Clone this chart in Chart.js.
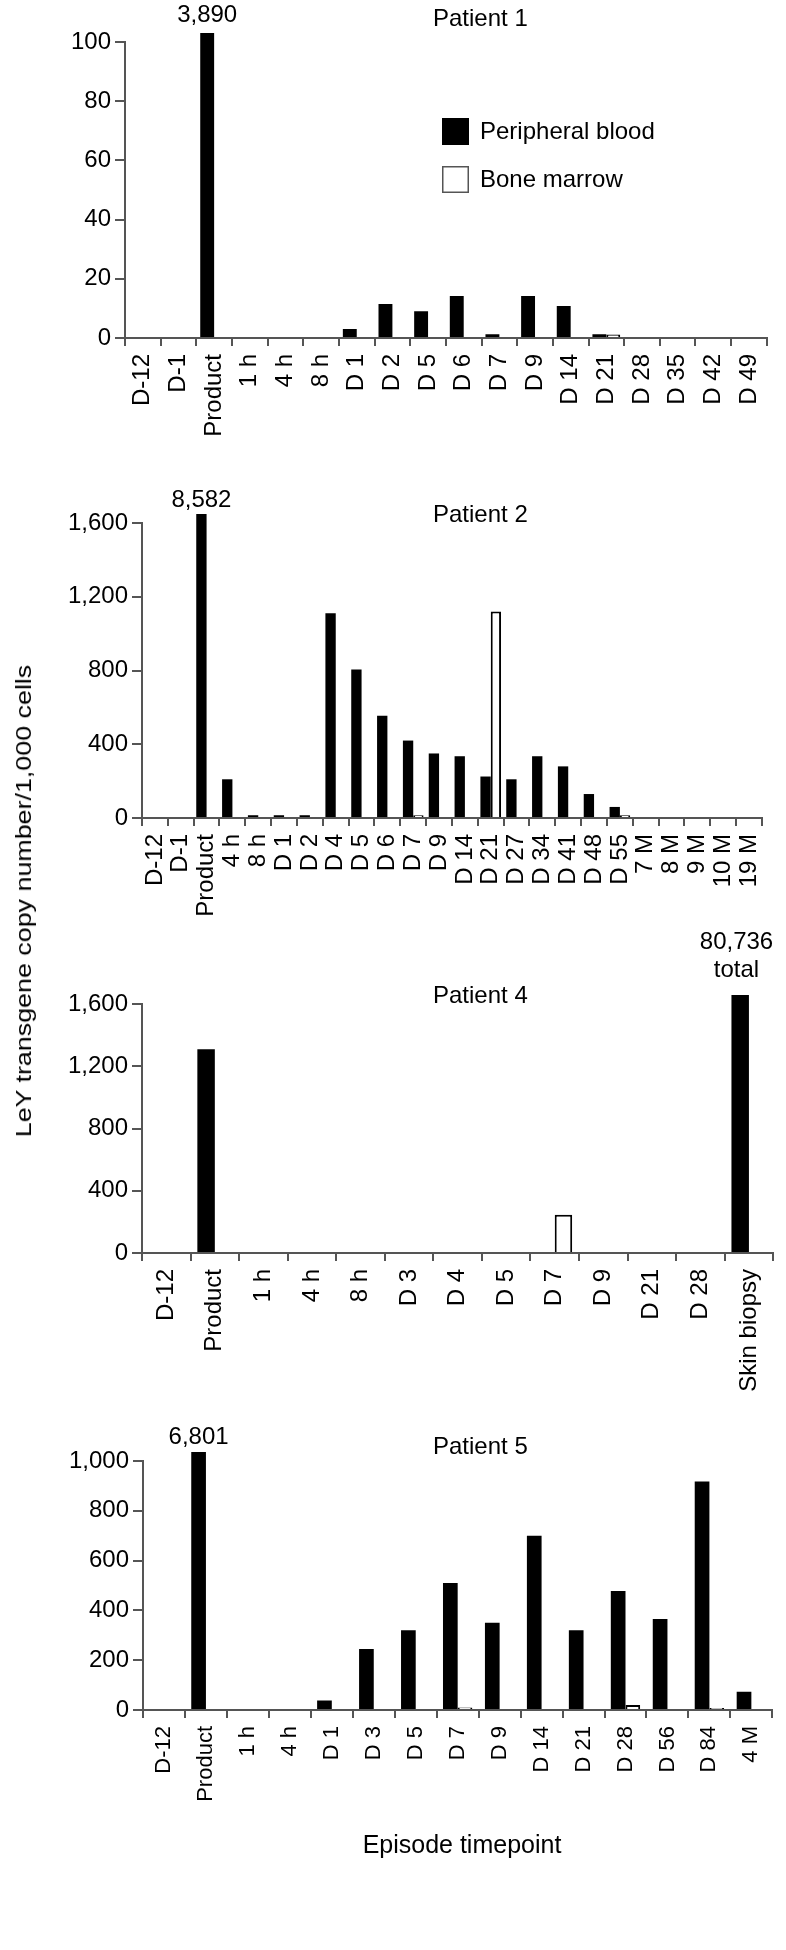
<!DOCTYPE html>
<html>
<head>
<meta charset="utf-8">
<script src="https://cdn.jsdelivr.net/npm/chart.js@4.4.1/dist/chart.umd.min.js"></script>
<style>
  body { margin: 0; background: #fff; }
  #page { position: relative; width: 786px; height: 1950px; overflow: hidden; font-family: "Liberation Sans", Arial, Helvetica, sans-serif; color: #000; }
  canvas { position: absolute; left: 0; }
  .axis-title { position: absolute; white-space: nowrap; transform: translate(-50%, -50%); }
</style>
</head>
<body>
<div id="page">
  <canvas id="p1" width="786" height="500" style="top:0px"></canvas>
  <canvas id="p2" width="786" height="500" style="top:440px"></canvas>
  <canvas id="p4" width="786" height="520" style="top:920px"></canvas>
  <canvas id="p5" width="786" height="470" style="top:1360px"></canvas>
  <div class="axis-title" style="left:24px; top:901px; font-size:22px; transform: translate(-50%, -50%) rotate(-90deg) scaleX(1.22);">LeY transgene copy number/1,000 cells</div>
  <div class="axis-title" style="left:462px; top:1844px; font-size:25px;">Episode timepoint</div>
</div>
<script>
const fontFamily = '"Liberation Sans", Arial, Helvetica, sans-serif';

// Patient 1
const p1Labels = ['D-12', 'D-1', 'Product', '1 h', '4 h', '8 h', 'D 1', 'D 2', 'D 5', 'D 6', 'D 7', 'D 9', 'D 14', 'D 21', 'D 28', 'D 35', 'D 42', 'D 49'];
const p1Blood = [0, 0, 3890, 0, 0, 0, 3, 11.5, 9, 14.2, 1.3, 14.2, 10.8, 1.3, 0, 0, 0, 0];
const p1Marrow = [null, null, null, null, null, null, null, null, null, null, null, null, null, 1.2, null, null, null, null];
const p1YTicks = [0, 20, 40, 60, 80, 100];

// Patient 2
const p2Labels = ['D-12', 'D-1', 'Product', '4 h', '8 h', 'D 1', 'D 2', 'D 4', 'D 5', 'D 6', 'D 7', 'D 9', 'D 14', 'D 21', 'D 27', 'D 34', 'D 41', 'D 48', 'D 55', '7 M', '8 M', '9 M', '10 M', '19 M'];
const p2Blood = [0, 0, 8582, 210, 15, 15, 15, 1110, 805, 555, 420, 350, 335, 225, 210, 335, 280, 130, 60, 0, 0, 0, 0, 0];
const p2Marrow = [null, null, null, null, null, null, null, null, null, null, 15, null, null, 1120, null, null, null, null, 15, null, null, null, null, null];
const p2YTicks = [0, 400, 800, 1200, 1600];

// Patient 4
const p4Labels = ['D-12', 'Product', '1 h', '4 h', '8 h', 'D 3', 'D 4', 'D 5', 'D 7', 'D 9', 'D 21', 'D 28', 'Skin biopsy'];
const p4Blood = [0, 1310, 0, 0, 0, 0, 0, 0, 0, 0, 0, 0, 80736];
const p4Marrow = [null, null, null, null, null, null, null, null, 245, null, null, null, null];
const p4YTicks = [0, 400, 800, 1200, 1600];

// Patient 5
const p5Labels = ['D-12', 'Product', '1 h', '4 h', 'D 1', 'D 3', 'D 5', 'D 7', 'D 9', 'D 14', 'D 21', 'D 28', 'D 56', 'D 84', '4 M'];
const p5Blood = [0, 6801, 0, 0, 38, 245, 320, 510, 350, 700, 320, 478, 365, 918, 73];
const p5Marrow = [null, null, null, null, null, null, null, 10, null, null, null, 20, null, 8, null];
const p5YTicks = [0, 200, 400, 600, 800, 1000];

const seriesNames = ['Peripheral blood', 'Bone marrow'];

Chart.defaults.font.family = fontFamily;
Chart.defaults.color = '#000';

// titles, values of bars running off the top, legend
const panelDecor = {
  id: 'panelDecor',
  afterDatasetsDraw(chart, args, opts) {
    const ctx = chart.ctx;
    const area = chart.chartArea;
    ctx.save();
    ctx.fillStyle = '#000';
    ctx.font = '24px ' + fontFamily;
    ctx.textBaseline = 'middle';
    ctx.textAlign = 'left';
    ctx.fillText(opts.title, opts.titleX, opts.titleY);

    const yMax = chart.scales.y.max;
    const meta = chart.getDatasetMeta(0);
    chart.data.datasets[0].data.forEach((v, i) => {
      if (v > yMax) {
        const bar = meta.data[i];
        const lines = [v.toLocaleString('en-US')];
        if (opts.note) lines.push(opts.note);
        const w = Math.max(...lines.map(t => ctx.measureText(t).width));
        const x = Math.min(bar.x, area.right - w / 2);
        ctx.textAlign = 'center';
        lines.forEach((t, k) => {
          ctx.fillText(t, x, area.top - opts.labelGap - (lines.length - 1 - k) * 28);
        });
      }
    });

    if (opts.legend) {
      const lg = opts.legend;
      chart.data.datasets.forEach((ds, i) => {
        const y = lg.y + i * lg.step;
        ctx.fillStyle = ds.backgroundColor;
        ctx.fillRect(lg.x, y, lg.size, lg.size);
        if (ds.backgroundColor === '#fff') {
          ctx.strokeStyle = '#555';
          ctx.lineWidth = 1.5;
          ctx.strokeRect(lg.x + 0.75, y + 0.75, lg.size - 1.5, lg.size - 1.5);
        }
        ctx.fillStyle = '#000';
        ctx.textAlign = 'left';
        ctx.fillText(ds.label, lg.x + lg.size + 11, y + lg.size / 2 + 1);
      });
    }
    ctx.restore();
  }
};

function makePanel(id, labels, blood, marrow, yTicks, p) {
  const canvas = document.getElementById(id);
  const clip = { left: 0, top: 9, right: 0, bottom: 0 };
  return new Chart(canvas.getContext('2d'), {
    type: 'bar',
    data: {
      labels: labels,
      datasets: [{
        label: seriesNames[0],
        data: blood,
        backgroundColor: '#000',
        borderWidth: 0,
        clip: clip
      }, {
        label: seriesNames[1],
        data: marrow,
        backgroundColor: '#fff',
        borderColor: '#000',
        borderWidth: 2,
        clip: clip
      }]
    },
    options: {
      responsive: false,
      animation: false,
      devicePixelRatio: 1,
      layout: {
        autoPadding: false,
        padding: { left: 0, right: 786 - p.right, top: p.top, bottom: 0 }
      },
      datasets: { bar: { categoryPercentage: p.cat, barPercentage: 1 } },
      plugins: {
        legend: { display: false },
        tooltip: { enabled: false },
        panelDecor: {
          title: p.title, titleX: 433, titleY: p.titleY,
          labelGap: p.labelGap, note: p.note, legend: p.legend
        }
      },
      scales: {
        x: {
          grid: { display: true, drawOnChartArea: false, drawTicks: true, tickLength: 8, color: '#555', lineWidth: 2 },
          border: { display: true, color: '#555', width: 2 },
          ticks: { autoSkip: false, minRotation: 90, maxRotation: 90, padding: 8, font: { size: p.xFont }, color: '#000' },
          afterFit: s => { s.height = p.height - p.bottom; }
        },
        y: {
          min: 0,
          max: yTicks[yTicks.length - 1],
          afterBuildTicks: s => { s.ticks = yTicks.map(v => ({ value: v })); },
          grid: { drawOnChartArea: false, drawTicks: true, tickLength: 10, color: '#555', lineWidth: 2 },
          border: { display: true, color: '#555', width: 2 },
          ticks: { font: { size: 24 }, color: '#000', padding: 4, callback: v => v.toLocaleString('en-US') },
          afterFit: s => { s.width = p.left; }
        }
      }
    },
    plugins: [panelDecor]
  });
}

makePanel('p1', p1Labels, p1Blood, p1Marrow, p1YTicks, {
  left: 125, right: 777, top: 42, bottom: 338, height: 500, cat: 0.78, xFont: 24,
  title: 'Patient 1', titleY: 19, labelGap: 27,
  legend: { x: 442, y: 118, size: 27, step: 48 }
});
makePanel('p2', p2Labels, p2Blood, p2Marrow, p2YTicks, {
  left: 142, right: 779, top: 83, bottom: 378, height: 500, cat: 0.8, xFont: 24,
  title: 'Patient 2', titleY: 75, labelGap: 23
});
makePanel('p4', p4Labels, p4Blood, p4Marrow, p4YTicks, {
  left: 142, right: 779, top: 84, bottom: 333, height: 520, cat: 0.72, xFont: 24,
  title: 'Patient 4', titleY: 76, labelGap: 34, note: 'total'
});
makePanel('p5', p5Labels, p5Blood, p5Marrow, p5YTicks, {
  left: 143, right: 779, top: 101, bottom: 350, height: 470, cat: 0.7, xFont: 22,
  title: 'Patient 5', titleY: 87, labelGap: 24
});
</script>
</body>
</html>
